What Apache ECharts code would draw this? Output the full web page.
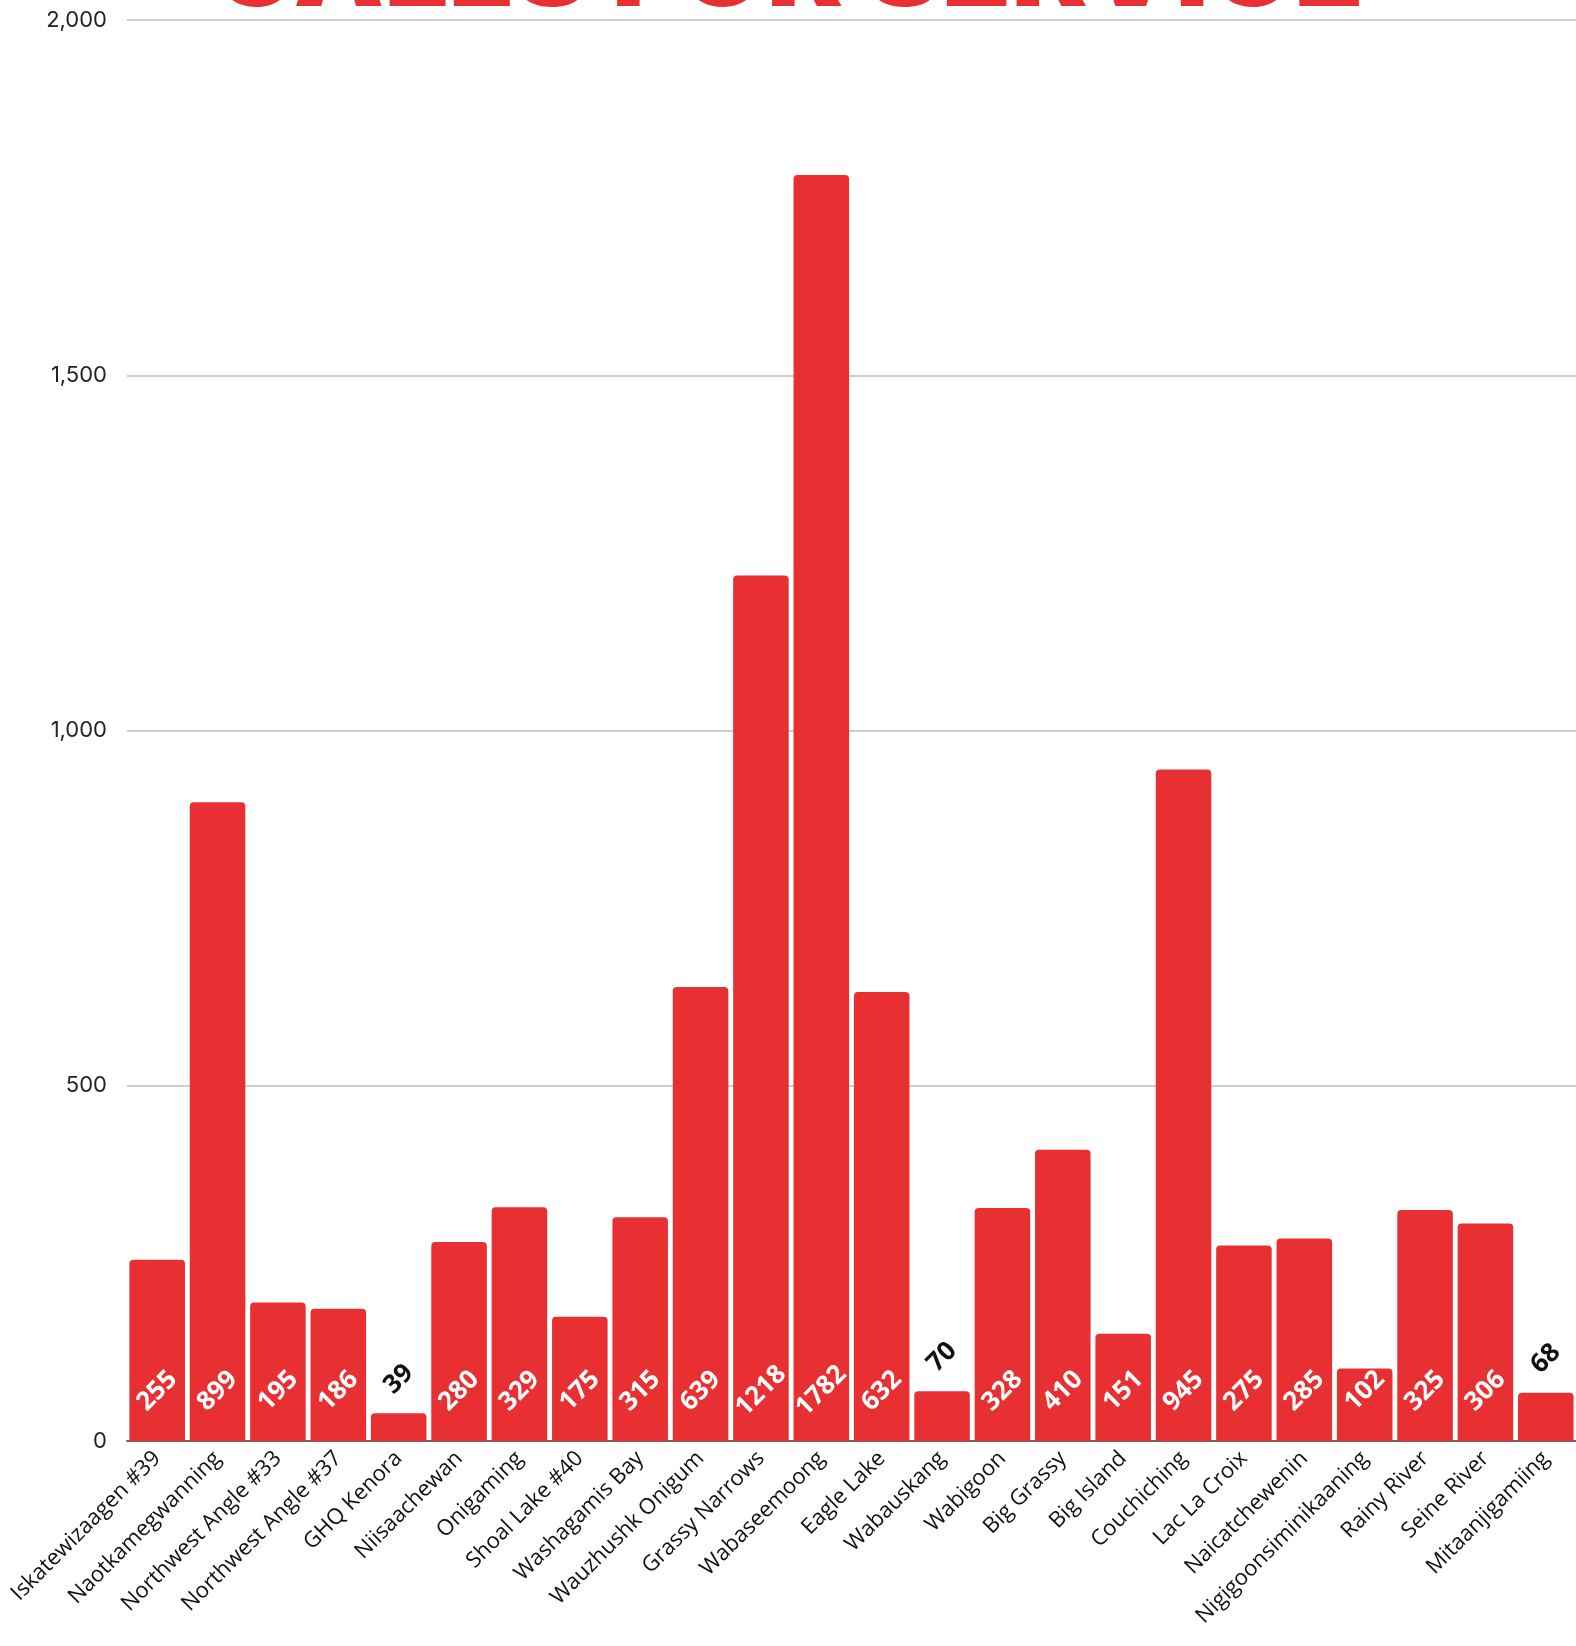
<!DOCTYPE html>
<html><head><meta charset="utf-8">
<script src="https://cdn.jsdelivr.net/npm/echarts@6/dist/echarts.min.js"></script>
<style>html,body{margin:0;padding:0;background:#fff}#c{width:1576px;height:1646px}</style>
</head><body><div id="c"></div>
<script>
const categories = ["Iskatewizaagen #39","Naotkamegwanning","Northwest Angle #33","Northwest Angle #37","GHQ Kenora","Niisaachewan","Onigaming","Shoal Lake #40","Washagamis Bay","Wauzhushk Onigum","Grassy Narrows","Wabaseemoong","Eagle Lake","Wabauskang","Wabigoon","Big Grassy","Big Island","Couchiching","Lac La Croix","Naicatchewenin","Nigigoonsiminikaaning","Rainy River","Seine River","Mitaanjigamiing"];
const calls = [255,899,195,186,39,280,329,175,315,639,1218,1782,632,70,328,410,151,945,275,285,102,325,306,68];
const yTicks = [0,500,1000,1500,2000];
const titleText = "CALLS FOR SERVICE";

const chart = echarts.init(document.getElementById('c'));
const data = calls.map(v => {
  const small = v < 100;
  return {
    value: v,
    label: small ? {position:'top', color:'#111', distance:34} : {position:'insideBottom', color:'#fff', distance:50}
  };
});
chart.setOption({
  backgroundColor:'#fff',
  animation:false,
  title:{text:titleText, left:'center', top:-90, textStyle:{fontFamily:'Inter', fontWeight:900, fontSize:114, color:'#e83033'}},
  grid:{left:127, right:0, top:20, bottom:205},
  xAxis:{type:'category', data:categories,
    axisLine:{lineStyle:{color:'#666', width:2}}, axisTick:{show:false},
    axisLabel:{rotate:45, interval:0, fontFamily:'Open Sans', fontSize:22, color:'#111', margin:14}},
  yAxis:{type:'value', min:0, max:2000, interval:500,
    axisLine:{show:false}, axisTick:{show:false},
    splitLine:{lineStyle:{color:'#bdbdbd', width:1.5}},
    axisLabel:{fontFamily:'Inter', fontSize:22, color:'#222', margin:20,
      formatter: v => yTicks.includes(v) ? v.toLocaleString('en-US') : ''}},
  series:[{type:'bar', data:data, barCategoryGap:'8%',
    itemStyle:{color:'#e83033', borderRadius:[4,4,0,0]},
    label:{show:true, rotate:45, align:'center', verticalAlign:'middle', fontFamily:'Open Sans', fontWeight:'bold', fontSize:26}}]
});
</script></body></html>
